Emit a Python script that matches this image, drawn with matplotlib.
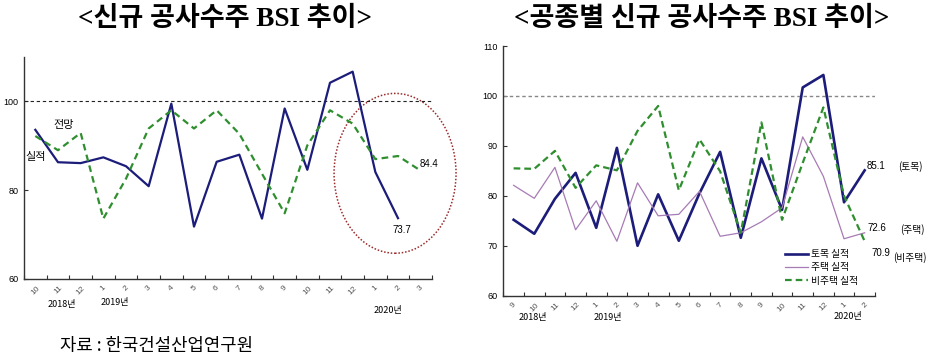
import matplotlib
matplotlib.use("Agg")
import matplotlib.pyplot as plt
from matplotlib.patches import Ellipse
import matplotlib.transforms as mtrans

plt.rcParams['font.family'] = ['Liberation Sans', 'Noto Sans CJK KR', 'DejaVu Sans']

# ---- Left chart data ----
left_months = ['10', '11', '12', '1', '2', '3', '4', '5', '6', '7', '8', '9', '10', '11', '12', '1', '2', '3']
left_actual = [93.6, 86.3, 86.1, 87.4, 85.4, 80.9, 99.5, 71.8, 86.4, 88.0, 73.6, 98.4, 84.6, 104.2, 106.7, 84.1, 73.7]
left_forecast = [92.2, 89.0, 92.9, 73.6, 82.6, 93.9, 98.0, 93.9, 98.0, 92.7, 83.7, 74.8, 90.1, 98.0, 95.0, 87.0, 87.7, 84.4]
left_years = ['2018년', '2019년', '2020년']

# ---- Right chart data ----
right_months = ['9', '10', '11', '12', '1', '2', '3', '4', '5', '6', '7', '8', '9', '10', '11', '12', '1', '2']
civil = [75.2, 72.4, 79.4, 84.6, 73.6, 89.6, 70.0, 80.3, 71.0, 80.5, 88.8, 71.6, 87.5, 77.2, 101.7, 104.2, 78.7, 85.1]
housing = [82.1, 79.5, 85.7, 73.2, 79.0, 70.9, 82.6, 76.0, 76.3, 80.9, 71.9, 72.6, 74.8, 77.6, 91.8, 83.9, 71.4, 72.6]
nonhousing = [85.5, 85.4, 89.0, 81.6, 86.1, 85.1, 93.0, 98.0, 81.1, 91.3, 84.9, 72.6, 94.7, 75.2, 86.6, 97.7, 80.0, 70.9]
right_years = ['2018년', '2019년', '2020년']
series_names = ['토목 실적', '주택 실적', '비주택 실적']

NAVY = '#1c1c7a'
GREEN = '#2f8f2f'
PURPLE = '#a77bb5'

fig = plt.figure(figsize=(9.31, 3.61), dpi=100)
W, H = 931, 361

def px_axes(x0, x1, y_top, y_bot):
    return fig.add_axes([x0 / W, 1 - y_bot / H, (x1 - x0) / W, (y_bot - y_top) / H])

def style_axes(ax, labels, yticks):
    n = len(labels)
    ax.set_xlim(-0.5, n - 0.5)
    for s in ['top', 'right']:
        ax.spines[s].set_visible(False)
    for s in ['left', 'bottom']:
        ax.spines[s].set_color('#333333')
        ax.spines[s].set_linewidth(1.0)
    ax.set_xticks([i - 0.5 for i in range(n + 1)])
    ax.set_xticklabels([])
    ax.set_xticks(list(range(n)), minor=True)
    ax.set_xticklabels(labels, minor=True, rotation=45, fontsize=6, color='#555555')
    ax.tick_params(axis='x', which='major', direction='in', length=3, color='#333333')
    ax.tick_params(axis='x', which='minor', length=0, pad=4)
    ax.set_yticks(yticks)
    ax.tick_params(axis='y', direction='in', length=3, labelsize=6.5, pad=4, color='#333333')

# ---------- Left ----------
ax1 = px_axes(24, 432, 57, 279)
ax1.set_ylim(60, 110)
style_axes(ax1, left_months, [60, 80, 100])
ax1.axhline(100, color='#222222', lw=0.8, ls=(0, (3, 2.5)))
ax1.plot(range(len(left_actual)), left_actual, color=NAVY, lw=1.6)
ax1.plot(range(len(left_forecast)), left_forecast, color=GREEN, lw=1.6, ls=(0, (3, 2)))
ax1.text(1.23, 94.6, '전망', fontsize=8, ha='center', va='center', family=['Noto Sans CJK KR'])
ax1.text(0.03, 87.4, '실적', fontsize=8, ha='center', va='center', family=['Noto Sans CJK KR'])
ax1.text(16.97, 85.8, f'{left_forecast[-1]:.1f}', fontsize=7, ha='left', va='center', clip_on=False)
ax1.text(16.15, 71.0, f'{left_actual[-1]:.1f}', fontsize=7, ha='center', va='center')
ax1.add_patch(Ellipse((15.87, 83.8), 5.38, 36, fill=False, edgecolor='#9b2a2a', lw=1.1,
                      ls=(0, (1, 1.2)), clip_on=False))
tr1 = mtrans.blended_transform_factory(ax1.transData, ax1.transAxes)
ax1.text(1.17, -0.117, left_years[0], transform=tr1, fontsize=6.5, ha='center', va='center', family=['Noto Sans CJK KR'])
ax1.text(3.5, -0.108, left_years[1], transform=tr1, fontsize=6.5, ha='center', va='center', family=['Noto Sans CJK KR'])
ax1.text(15.56, -0.144, left_years[2], transform=tr1, fontsize=6.5, ha='center', va='center', family=['Noto Sans CJK KR'])

# ---------- Right ----------
ax2 = px_axes(503.3, 875, 46, 295.7)
ax2.set_ylim(60, 110)
style_axes(ax2, right_months, [60, 70, 80, 90, 100, 110])
ax2.axhline(100, color='#888888', lw=1.0, ls=(0, (2.5, 2)))
x = range(len(civil))
ax2.plot(x, civil, color=NAVY, lw=1.9, label=series_names[0])
ax2.plot(x, housing, color=PURPLE, lw=0.9, label=series_names[1])
ax2.plot(x, nonhousing, color=GREEN, lw=1.6, ls=(0, (3, 1.8)), label=series_names[2])
ax2.text(17.11, 85.9, f'{civil[-1]:.1f}', fontsize=7, ha='left', va='center', clip_on=False)
ax2.text(18.6, 85.9, '(토목)', fontsize=7, ha='left', va='center', clip_on=False, family=['Noto Sans CJK KR'])
ax2.text(17.15, 73.6, f'{housing[-1]:.1f}', fontsize=7, ha='left', va='center', clip_on=False)
ax2.text(18.7, 73.2, '(주택)', fontsize=7, ha='left', va='center', clip_on=False, family=['Noto Sans CJK KR'])
ax2.text(17.35, 68.6, f'{nonhousing[-1]:.1f}', fontsize=7, ha='left', va='center', clip_on=False)
ax2.text(18.4, 67.6, '(비주택)', fontsize=7, ha='left', va='center', clip_on=False, family=['Noto Sans CJK KR'])
tr2 = mtrans.blended_transform_factory(ax2.transData, ax2.transAxes)
ax2.text(0.94, -0.089, right_years[0], transform=tr2, fontsize=6.5, ha='center', va='center', family=['Noto Sans CJK KR'])
ax2.text(4.57, -0.089, right_years[1], transform=tr2, fontsize=6.5, ha='center', va='center', family=['Noto Sans CJK KR'])
ax2.text(16.19, -0.085, right_years[2], transform=tr2, fontsize=6.5, ha='center', va='center', family=['Noto Sans CJK KR'])
leg = ax2.legend(loc='upper left', bbox_to_anchor=(785 / W, 1 - 249 / H), bbox_transform=fig.transFigure,
                 frameon=False, handlelength=2.4, handletextpad=0.3, labelspacing=0.35,
                 borderpad=0, borderaxespad=0, prop={'family': 'Noto Sans CJK KR', 'size': 7})

# ---------- Titles / source ----------
title_fam = ['Liberation Serif', 'Noto Sans CJK KR']
fig.text(225 / W, 1 - 19 / H, '<신규 공사수주 BSI 추이>', fontsize=19.5, fontweight='bold',
         ha='center', va='center', family=title_fam)
fig.text(702 / W, 1 - 19 / H, '<공종별 신규 공사수주 BSI 추이>', fontsize=19.5, fontweight='bold',
         ha='center', va='center', family=title_fam)
fig.text(60 / W, 1 - 346 / H, '자료 : 한국건설산업연구원', fontsize=12.8, ha='left', va='center',
         family=['Noto Sans CJK KR'])

fig.savefig('out.png', dpi=100)
